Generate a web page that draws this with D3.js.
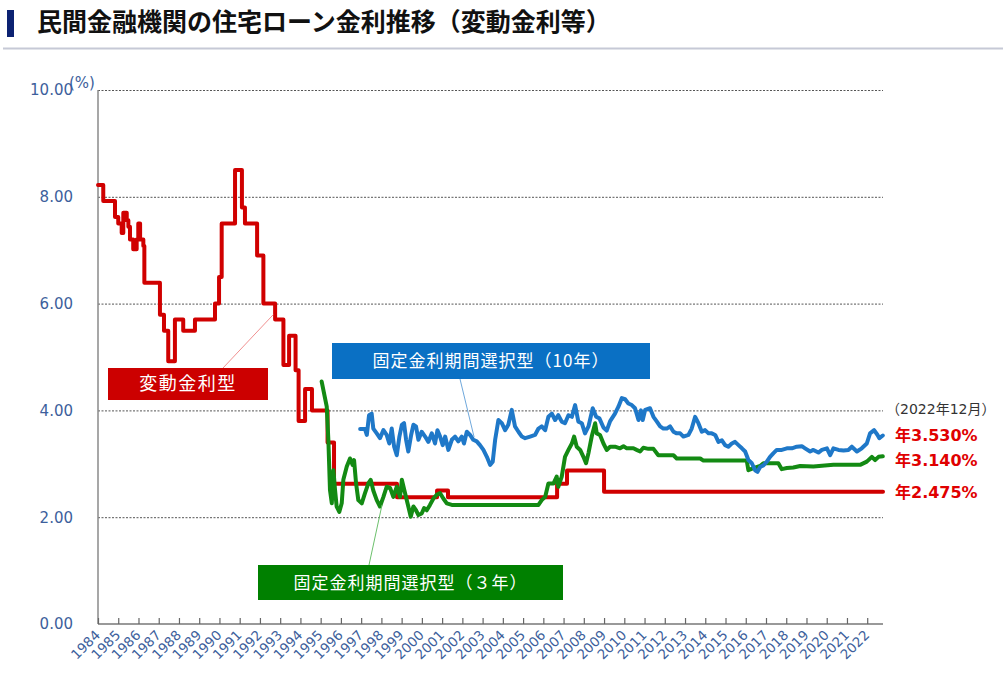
<!DOCTYPE html>
<html>
<head>
<meta charset="utf-8">
<script src="https://cdn.jsdelivr.net/npm/d3@7"></script>
<style>
  body { margin: 0; background: #fff; }
  svg { display: block; }
</style>
</head>
<body>
<svg id="chart" width="1003" height="685"></svg>
<script>
'use strict';

// ---- data (decimal year, % per year) ----
var yearTicks = d3.range(1984, 2023);
var rateTicks = [0, 2, 4, 6, 8, 10];

// 変動金利型 (step series)
var variableRate = [
  [1984.00, 8.22], [1984.26, 7.92], [1984.84, 7.62], [1985.00, 7.50], [1985.17, 7.32],
  [1985.25, 7.70], [1985.42, 7.56], [1985.50, 7.44], [1985.58, 7.20], [1985.74, 7.02],
  [1985.91, 7.20], [1985.99, 7.50], [1986.08, 7.20], [1986.24, 7.08], [1986.29, 6.39],
  [1987.06, 5.79], [1987.26, 5.49], [1987.47, 4.92], [1987.80, 5.70], [1988.21, 5.49],
  [1988.79, 5.70], [1989.78, 6.00], [1989.98, 6.50], [1990.11, 7.50], [1990.77, 8.50],
  [1991.11, 7.80], [1991.26, 7.50], [1991.86, 6.90], [1992.17, 6.00], [1992.75, 5.70],
  [1993.16, 4.85], [1993.44, 5.40], [1993.76, 4.75], [1993.91, 3.80], [1994.23, 4.40],
  [1994.57, 4.00], [1995.34, 3.40], [1995.66, 2.625], [1998.77, 2.375], [2000.75, 2.50],
  [2001.29, 2.375], [2006.68, 2.625], [2007.17, 2.875], [2009.00, 2.475], [2022.78, 2.475]
];

// 固定金利期間選択型（3年）
var fixed3Year = [
  [1995.05, 4.54], [1995.30, 4.07], [1995.38, 3.45], [1995.46, 2.51], [1995.55, 2.26],
  [1995.63, 2.88], [1995.71, 2.51], [1995.79, 2.20], [1995.92, 2.10], [1996.04, 2.26],
  [1996.12, 2.70], [1996.29, 2.95], [1996.45, 3.10], [1996.58, 2.98], [1996.65, 3.07],
  [1996.75, 2.63], [1996.86, 2.32], [1997.03, 2.26], [1997.19, 2.45], [1997.36, 2.64],
  [1997.47, 2.70], [1997.60, 2.50], [1997.77, 2.32], [1997.93, 2.20], [1998.10, 2.38],
  [1998.26, 2.57], [1998.43, 2.55], [1998.59, 2.38], [1998.76, 2.57], [1998.92, 2.38],
  [1999.01, 2.70], [1999.17, 2.45], [1999.33, 2.20], [1999.45, 2.01], [1999.58, 2.20],
  [1999.71, 2.13], [1999.83, 2.04], [1999.99, 2.07], [2000.11, 2.17], [2000.24, 2.13],
  [2000.40, 2.23], [2000.57, 2.35], [2000.73, 2.42], [2000.90, 2.45], [2001.06, 2.35],
  [2001.23, 2.26], [2001.48, 2.23], [2005.76, 2.23], [2005.92, 2.32], [2006.09, 2.38],
  [2006.25, 2.63], [2006.50, 2.63], [2006.66, 2.76], [2006.74, 2.57], [2006.91, 2.76],
  [2007.07, 3.13], [2007.24, 3.26], [2007.41, 3.38], [2007.52, 3.51], [2007.65, 3.32],
  [2007.82, 3.26], [2007.98, 3.13], [2008.11, 3.01], [2008.23, 3.20], [2008.39, 3.51],
  [2008.56, 3.76], [2008.64, 3.57], [2008.80, 3.54], [2008.97, 3.38], [2009.13, 3.26],
  [2009.30, 3.32], [2009.54, 3.32], [2009.79, 3.29], [2009.96, 3.33], [2010.12, 3.29],
  [2010.45, 3.29], [2010.61, 3.26], [2010.78, 3.23], [2010.94, 3.30], [2011.19, 3.28],
  [2011.44, 3.28], [2011.68, 3.16], [2012.43, 3.16], [2012.59, 3.10], [2013.75, 3.10],
  [2013.91, 3.06], [2016.05, 3.06], [2016.13, 2.88], [2016.38, 2.92], [2016.71, 2.96],
  [2016.87, 3.01], [2017.61, 3.01], [2017.78, 2.90], [2018.03, 2.92], [2018.35, 2.93],
  [2018.69, 2.96], [2019.34, 2.95], [2020.33, 2.98], [2021.65, 2.98], [2021.98, 3.04],
  [2022.23, 3.13], [2022.39, 3.07], [2022.56, 3.13], [2022.77, 3.14]
];

// 固定金利期間選択型（10年）
var fixed10Year = [
  [1996.95, 3.65], [1997.19, 3.65], [1997.28, 3.54], [1997.39, 3.91], [1997.52, 3.94],
  [1997.60, 3.66], [1997.77, 3.57], [1997.93, 3.48], [1998.10, 3.63], [1998.26, 3.54],
  [1998.39, 3.38], [1998.51, 3.66], [1998.63, 3.32], [1998.76, 3.16], [1998.89, 3.51],
  [1999.01, 3.73], [1999.12, 3.76], [1999.22, 3.45], [1999.33, 3.23], [1999.47, 3.54],
  [1999.58, 3.73], [1999.71, 3.70], [1999.83, 3.45], [1999.99, 3.60], [2000.16, 3.51],
  [2000.32, 3.41], [2000.49, 3.57], [2000.65, 3.38], [2000.77, 3.63], [2000.90, 3.51],
  [2001.03, 3.35], [2001.15, 3.51], [2001.31, 3.26], [2001.48, 3.45], [2001.64, 3.51],
  [2001.80, 3.42], [2001.97, 3.51], [2002.08, 3.38], [2002.22, 3.60], [2002.38, 3.54],
  [2002.54, 3.45], [2002.71, 3.42], [2002.87, 3.35], [2003.04, 3.26], [2003.21, 3.13],
  [2003.37, 2.98], [2003.50, 3.04], [2003.62, 3.45], [2003.78, 3.82], [2003.95, 3.76],
  [2004.11, 3.63], [2004.27, 3.73], [2004.44, 4.01], [2004.60, 3.70], [2004.77, 3.60],
  [2004.94, 3.51], [2005.10, 3.48], [2005.35, 3.51], [2005.59, 3.54], [2005.76, 3.66],
  [2005.92, 3.70], [2006.09, 3.63], [2006.25, 3.88], [2006.42, 3.94], [2006.58, 3.82],
  [2006.74, 3.91], [2006.91, 3.79], [2007.07, 3.76], [2007.24, 3.91], [2007.41, 3.88],
  [2007.57, 4.10], [2007.73, 3.79], [2007.90, 3.76], [2008.06, 3.57], [2008.23, 3.70],
  [2008.44, 4.04], [2008.61, 3.88], [2008.77, 3.85], [2008.97, 3.68], [2009.13, 3.62],
  [2009.30, 3.80], [2009.54, 3.94], [2009.71, 4.07], [2009.88, 4.23], [2010.04, 4.21],
  [2010.20, 4.13], [2010.37, 4.10], [2010.53, 4.04], [2010.70, 3.82], [2010.82, 4.00],
  [2010.91, 3.82], [2011.03, 4.01], [2011.27, 4.04], [2011.44, 3.88], [2011.61, 3.79],
  [2011.77, 3.70], [2011.93, 3.66], [2012.10, 3.66], [2012.26, 3.70], [2012.43, 3.60],
  [2012.59, 3.57], [2012.76, 3.57], [2012.92, 3.51], [2013.17, 3.54], [2013.33, 3.66],
  [2013.50, 3.88], [2013.66, 3.76], [2013.83, 3.60], [2013.99, 3.63], [2014.16, 3.57],
  [2014.32, 3.57], [2014.49, 3.54], [2014.65, 3.41], [2014.82, 3.44], [2014.98, 3.35],
  [2015.14, 3.32], [2015.31, 3.38], [2015.47, 3.41], [2015.64, 3.35], [2015.81, 3.29],
  [2015.97, 3.23], [2016.13, 3.07], [2016.30, 3.01], [2016.46, 2.88], [2016.58, 2.85],
  [2016.71, 2.94], [2016.87, 2.97], [2017.04, 3.04], [2017.20, 3.13], [2017.37, 3.20],
  [2017.53, 3.26], [2017.78, 3.26], [2018.03, 3.29], [2018.28, 3.29], [2018.52, 3.32],
  [2018.77, 3.33], [2018.93, 3.29], [2019.18, 3.23], [2019.34, 3.26], [2019.59, 3.21],
  [2019.76, 3.26], [2020.01, 3.29], [2020.17, 3.16], [2020.33, 3.29], [2020.58, 3.26],
  [2020.83, 3.25], [2021.07, 3.26], [2021.24, 3.32], [2021.49, 3.23], [2021.73, 3.29],
  [2021.98, 3.38], [2022.14, 3.57], [2022.34, 3.63], [2022.51, 3.54], [2022.60, 3.48],
  [2022.77, 3.53]
];

var seriesNames  = ["変動金利型", "固定金利期間選択型（10年）", "固定金利期間選択型（３年）"];
var endLabels    = ["年3.530%", "年3.140%", "年2.475%"];
var endValues    = [3.53, 3.14, 2.475];
var endDateLabel = "（2022年12月）";
var titleText    = "民間金融機関の住宅ローン金利推移（変動金利等）";

// ---- layout ----
var W = 1003, H = 685;
var plot = { left: 98, right: 883, top: 90, bottom: 624 };
var RED = "#d00000", GREEN = "#138a13", BLUE = "#1f78c8";
var AXIS_TEXT = "#3d5f9c";

var svg = d3.select("#chart");

var x = d3.scaleLinear().domain([1984, 2022.78]).range([plot.left, plot.right]);
var y = d3.scaleLinear().domain([0, 10]).range([plot.bottom, plot.top]);

// title
svg.append("rect").attr("x", 7).attr("y", 10).attr("width", 7).attr("height", 27)
  .style("fill", "#0c2272");
svg.append("text")
  .attr("x", 37).attr("y", 31)
  .style("font-family", "'Noto Sans CJK JP', sans-serif")
  .style("font-weight", "bold")
  .style("font-size", "25px")
  .style("fill", "#111")
  .text(titleText);
svg.append("line").attr("x1", 3).attr("x2", W).attr("y1", 48.5).attr("y2", 48.5)
  .style("stroke", "#c6c9d6").style("stroke-width", 2);

// gridlines
svg.append("g").selectAll("line")
  .data(rateTicks.filter(function (d) { return d > 0; }))
  .join("line")
  .attr("x1", plot.left).attr("x2", plot.right)
  .attr("y1", function (d) { return y(d) + 0.5; })
  .attr("y2", function (d) { return y(d) + 0.5; })
  .style("stroke", "#555")
  .style("stroke-width", 1)
  .style("stroke-dasharray", "2,1.5");

// y axis labels
svg.append("g").selectAll("text")
  .data(rateTicks)
  .join("text")
  .attr("x", 73)
  .attr("y", function (d) { return y(d); })
  .attr("dy", "0.36em")
  .style("text-anchor", "end")
  .style("font-family", "'DejaVu Sans', Verdana, sans-serif")
  .style("font-size", "15px")
  .style("fill", AXIS_TEXT)
  .text(function (d) { return d3.format(".2f")(d); });

svg.append("text")
  .attr("x", 69).attr("y", 88)
  .style("font-family", "'DejaVu Sans', Verdana, sans-serif")
  .style("font-size", "15px")
  .style("fill", AXIS_TEXT)
  .text("(%)");

// y axis line
svg.append("line")
  .attr("x1", plot.left).attr("x2", plot.left)
  .attr("y1", plot.top).attr("y2", plot.bottom)
  .style("stroke", "#8a8a8a").style("stroke-width", 1.5);

// x axis
var xAxis = d3.axisTop(x)
  .tickValues(yearTicks)
  .tickSize(6)
  .tickFormat("");
var xg = svg.append("g")
  .attr("transform", "translate(0," + plot.bottom + ")")
  .call(xAxis);
xg.select(".domain").style("stroke", "#777").style("stroke-width", 1.5)
  .attr("d", "M" + plot.left + ",0H" + plot.right);
xg.selectAll(".tick line").style("stroke", "#666").style("stroke-width", 1.2);

svg.append("g").selectAll("text")
  .data(yearTicks)
  .join("text")
  .attr("transform", function (d) {
    return "translate(" + (x(d) + 3) + "," + (plot.bottom + 12) + ") rotate(-45)";
  })
  .style("text-anchor", "end")
  .style("font-family", "'DejaVu Sans', Verdana, sans-serif")
  .style("font-size", "13.5px")
  .style("fill", AXIS_TEXT)
  .text(function (d) { return d; });

// lines
var line = d3.line()
  .x(function (d) { return x(d[0]); })
  .y(function (d) { return y(d[1]); });

function drawSeries(data, color, curve) {
  svg.append("path")
    .datum(data)
    .attr("d", line.curve(curve)(data))
    .style("fill", "none")
    .style("stroke", color)
    .style("stroke-width", 4)
    .style("stroke-linejoin", "round")
    .style("stroke-linecap", "round");
}

drawSeries(variableRate, RED, d3.curveStepAfter);
drawSeries(fixed3Year, GREEN, d3.curveLinear);
drawSeries(fixed10Year, BLUE, d3.curveLinear);

// callout boxes
function callout(box, anchor, fill, leader, label, fontSize, spacing) {
  svg.append("line")
    .attr("x1", box.lx).attr("y1", box.ly)
    .attr("x2", x(anchor[0])).attr("y2", y(anchor[1]))
    .style("stroke", leader).style("stroke-width", 1);
  svg.append("rect")
    .attr("x", box.x).attr("y", box.y).attr("width", box.w).attr("height", box.h)
    .style("fill", fill);
  svg.append("text")
    .attr("x", box.x + box.w / 2).attr("y", box.y + box.h / 2)
    .attr("dy", "0.36em")
    .style("text-anchor", "middle")
    .style("font-family", "'Noto Sans CJK JP', sans-serif")
    .style("font-size", fontSize + "px")
    .style("letter-spacing", spacing + "px")
    .style("fill", "#fff")
    .text(label);
}

callout({ x: 108, y: 368, w: 160, h: 32, lx: 223, ly: 368 }, [1992.65, 5.79],
  "#cc0000", "#f09090", seriesNames[0], 18, 1.5);
callout({ x: 332, y: 343, w: 318, h: 36, lx: 460, ly: 379 }, [2002.58, 3.50],
  "#0a70c4", "#6fa8dc", seriesNames[1], 17, 1);
callout({ x: 258, y: 565, w: 305, h: 35, lx: 369, ly: 565 }, [1998.03, 2.23],
  "#008000", "#6cc06c", seriesNames[2], 17, 1);

// end labels
svg.append("text")
  .attr("x", 886).attr("y", 409).attr("dy", "0.36em")
  .style("font-family", "'DejaVu Sans', 'Noto Sans CJK JP', sans-serif")
  .style("font-size", "14px")
  .style("fill", "#333")
  .text(endDateLabel);

var endOffsets = [0, 4, 0];
svg.append("g").selectAll("text")
  .data(endLabels)
  .join("text")
  .attr("x", 895)
  .attr("y", function (d, i) { return y(endValues[i]) + endOffsets[i]; })
  .attr("dy", "0.36em")
  .style("font-family", "'DejaVu Sans', 'Noto Sans CJK JP', sans-serif")
  .style("font-weight", "bold")
  .style("font-size", "16px")
  .style("fill", "#e00000")
  .text(function (d) { return d; });
</script>
</body>
</html>
